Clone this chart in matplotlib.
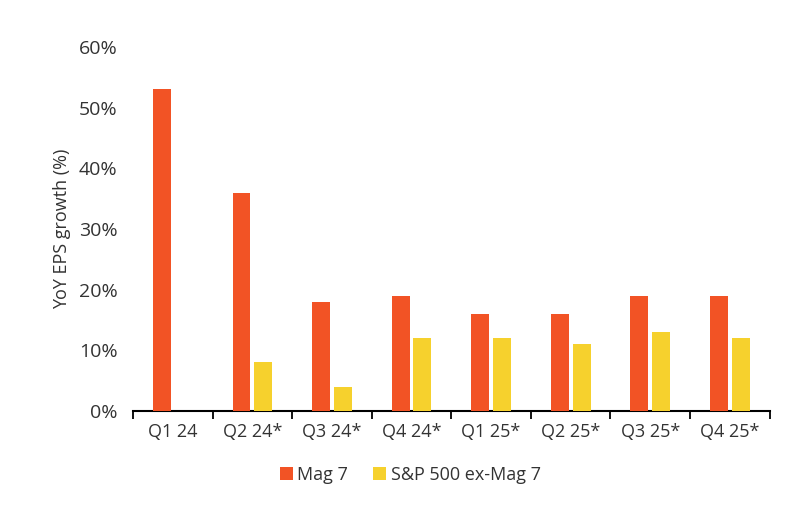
import numpy as np
import matplotlib
matplotlib.use('Agg')
import matplotlib.pyplot as plt
import matplotlib.ticker as ticker
from matplotlib.patches import Patch

plt.rcParams['font.family'] = ['Open Sans', 'DejaVu Sans']

quarters = ['Q1 24', 'Q2 24*', 'Q3 24*', 'Q4 24*', 'Q1 25*', 'Q2 25*', 'Q3 25*', 'Q4 25*']
mag7 = [53, 36, 18, 19, 16, 16, 19, 19]
ex_mag7 = [np.nan, 8, 4, 12, 12, 11, 13, 12]

cor_mag7 = '#F25325'
cor_ex = '#F6D12D'
cor_texto = '#333333'

fig = plt.figure(figsize=(8.11, 5.14), dpi=100)
ax = fig.add_axes([0.164, 0.2004, 0.785, 0.7082])

x = np.arange(len(quarters))
largura = 0.225
ax.bar(x - 0.137, mag7, width=largura, color=cor_mag7, zorder=3)
ax.bar(x + 0.137, ex_mag7, width=largura, color=cor_ex, zorder=3)

ax.set_xlim(-0.5, len(quarters) - 0.5)
ax.set_ylim(0, 60)
ax.yaxis.set_major_locator(ticker.MultipleLocator(10))
ax.yaxis.set_major_formatter(ticker.PercentFormatter(decimals=0))

ax.set_xticks(x)
ax.set_xticklabels(quarters)
ax.set_xticks(np.arange(len(quarters) + 1) - 0.5, minor=True)
ax.tick_params(axis='x', which='major', length=0, pad=9, labelsize=13, labelcolor=cor_texto)
ax.tick_params(axis='x', which='minor', length=6, width=1.3, direction='out', color='black')
ax.tick_params(axis='y', length=0, pad=11, labelsize=14, labelcolor=cor_texto)

ax.set_ylabel('YoY EPS growth (%)', fontsize=13, color=cor_texto, labelpad=6)

for lado in ['top', 'right', 'left']:
    ax.spines[lado].set_visible(False)
ax.spines['bottom'].set_linewidth(1.5)
ax.spines['bottom'].set_color('black')

elementos = [
    Patch(facecolor=cor_mag7, label='Mag 7'),
    Patch(facecolor=cor_ex, label='S&P 500 ex-Mag 7'),
]
fig.legend(handles=elementos, loc='center', bbox_to_anchor=(0.506, 0.076), ncol=2,
           frameon=False, fontsize=13, handlelength=0.7, handleheight=0.7,
           handletextpad=0.25, columnspacing=1.4, labelcolor=cor_texto)

fig.savefig('out.png', dpi=100)
